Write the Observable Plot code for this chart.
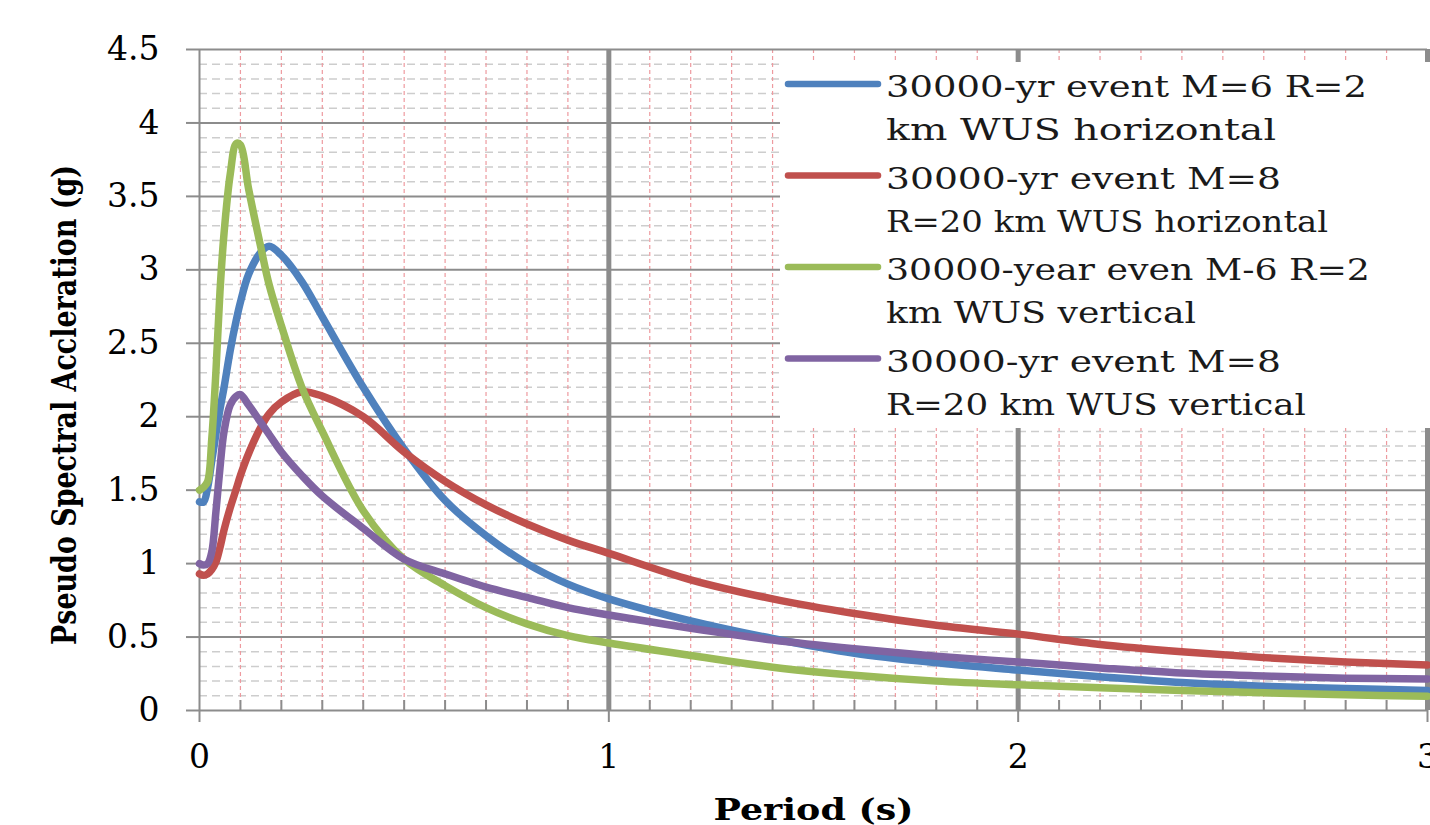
<!DOCTYPE html>
<html>
<head>
<meta charset="utf-8">
<script src="https://cdn.jsdelivr.net/npm/d3@7"></script>
<script src="https://cdn.jsdelivr.net/npm/@observablehq/plot@0.6"></script>
<style>
  html, body { margin: 0; padding: 0; background: #fff; overflow: hidden; }
  #chart { width: 1430px; height: 825px; }
</style>
</head>
<body>
<div id="chart"></div>
<script>
// ---- Data ----
const periods = [0, 0.01, 0.02, 0.03, 0.04, 0.05, 0.06, 0.075, 0.09, 0.1, 0.12, 0.15, 0.17, 0.2, 0.25, 0.3, 0.4, 0.5, 0.6, 0.7, 0.8, 0.9, 1.0, 1.2, 1.4, 1.6, 1.8, 2.0, 2.2, 2.4, 2.6, 2.8, 3.0];

const seriesNames = [
  "30000-yr event M=6 R=2 km WUS horizontal",
  "30000-yr event M=8 R=20 km WUS horizontal",
  "30000-year even M-6 R=2 km WUS vertical",
  "30000-yr event M=8 R=20 km WUS vertical"
];

const saM6Horizontal = [1.42, 1.42, 1.52, 1.70, 1.88, 2.05, 2.20, 2.45, 2.66, 2.78, 2.97, 3.12, 3.16, 3.10, 2.92, 2.68, 2.20, 1.78, 1.43, 1.19, 1.00, 0.86, 0.76, 0.61, 0.49, 0.39, 0.325, 0.275, 0.23, 0.19, 0.165, 0.15, 0.136];
const saM8Horizontal = [0.93, 0.92, 0.93, 0.96, 1.01, 1.11, 1.23, 1.38, 1.51, 1.60, 1.75, 1.93, 2.02, 2.10, 2.17, 2.14, 2.00, 1.76, 1.56, 1.40, 1.27, 1.16, 1.07, 0.89, 0.76, 0.66, 0.58, 0.52, 0.45, 0.40, 0.36, 0.33, 0.31];
const saM6Vertical   = [1.50, 1.52, 1.56, 1.85, 2.30, 2.85, 3.25, 3.65, 3.86, 3.85, 3.55, 3.15, 2.90, 2.62, 2.20, 1.90, 1.36, 1.03, 0.85, 0.70, 0.59, 0.51, 0.46, 0.375, 0.295, 0.24, 0.20, 0.175, 0.155, 0.136, 0.12, 0.107, 0.097];
const saM8Vertical   = [1.00, 0.99, 1.00, 1.08, 1.35, 1.65, 1.90, 2.08, 2.14, 2.15, 2.08, 1.96, 1.88, 1.76, 1.60, 1.46, 1.24, 1.03, 0.93, 0.84, 0.77, 0.70, 0.65, 0.56, 0.48, 0.42, 0.37, 0.33, 0.29, 0.255, 0.235, 0.22, 0.215];

const seriesColors = ["#4F81BD", "#C0504D", "#9BBB59", "#8064A2"];

const legendLines = [
  ["30000-yr event M=6 R=2", "km WUS horizontal"],
  ["30000-yr event M=8", "R=20 km WUS horizontal"],
  ["30000-year even M-6 R=2", "km WUS vertical"],
  ["30000-yr event M=8", "R=20 km WUS vertical"]
];

const yTicks = [0, 0.5, 1, 1.5, 2, 2.5, 3, 3.5, 4, 4.5];
const xTicks = [0, 1, 2, 3];
const xMinor = d3.range(1, 30).map(i => i / 10).filter(v => Math.abs(v - Math.round(v)) > 1e-9);
const yMinor = d3.range(1, 45).map(i => i / 10).filter(v => Math.abs(v * 2 - Math.round(v * 2)) > 1e-9);

const xTitle = "Period (s)";
const yTitle = "Pseudo Spectral Accleration (g)";

// ---- Build table ----
const allSeries = [saM6Horizontal, saM8Horizontal, saM6Vertical, saM8Vertical];
const rows = [];
allSeries.forEach((vals, s) => {
  vals.forEach((v, i) => rows.push({ series: seriesNames[s], period: periods[i], sa: v }));
});

const font = "'DejaVu Serif', 'Liberation Serif', serif";

const plot = Plot.plot({
  width: 1430,
  height: 825,
  marginLeft: 199,
  marginRight: 3,
  marginTop: 49,
  marginBottom: 115,
  style: { fontFamily: font, background: "#fff", color: "#000", overflow: "visible" },
  x: { domain: [0, 3] },
  y: { domain: [0, 4.5] },
  color: { domain: seriesNames, range: seriesColors },
  marks: [
    Plot.ruleY(yMinor, { stroke: "#cdcdcd", strokeWidth: 1.5, strokeDasharray: "8,5" }),
    Plot.ruleX(xMinor, { stroke: "#ee9a9f", strokeWidth: 1.2, strokeDasharray: "4,3" }),
    Plot.ruleY(yTicks, { stroke: "#8c8c8c", strokeWidth: 2 }),
    Plot.ruleX([0], { stroke: "#8c8c8c", strokeWidth: 2 }),
    Plot.ruleX(xTicks.filter(d => d > 0), { stroke: "#8c8c8c", strokeWidth: 5 }),
    Plot.axisY(yTicks, { tickSize: 13, tickPadding: 27, fontSize: 33, tickFormat: d => String(d), stroke: "#8c8c8c", strokeWidth: 2, label: null }),
    Plot.axisX(xMinor, { tickSize: 10, dy: -10, tickFormat: () => "", stroke: "#8c8c8c", strokeWidth: 2, label: null }),
    Plot.axisX(xTicks, { tickSize: 12, tickPadding: 22, fontSize: 33, tickFormat: d => String(d), stroke: "#8c8c8c", strokeWidth: 2, label: null }),
    Plot.line(rows, { x: "period", y: "sa", z: "series", stroke: "series", strokeWidth: 7.5, curve: "catmull-rom", strokeLinecap: "round", strokeLinejoin: "round" }),
    Plot.text([xTitle], { frameAnchor: "bottom", dy: 100, lineAnchor: "middle", fontSize: 30, fontWeight: "bold", fill: "#000" }),
    Plot.text([yTitle], { frameAnchor: "left", dx: -134, dy: 25, rotate: -90, lineAnchor: "middle", fontSize: 33, fontWeight: "bold", fill: "#000" })
  ]
});

document.getElementById("chart").appendChild(plot);

const svg = d3.select(plot);
svg.selectAll("text").filter(function () { return this.textContent === xTitle; })
  .attr("text-anchor", "start").attr("x", -100)
  .attr("textLength", 200).attr("lengthAdjust", "spacingAndGlyphs");
svg.selectAll("text").filter(function () { return this.textContent === yTitle; })
  .attr("text-anchor", "start").attr("x", -240)
  .attr("textLength", 480).attr("lengthAdjust", "spacingAndGlyphs");

// ---- Legend (inside the plot area, top right) ----
const legendWidths = [[481, 390], [395, 442], [484, 310], [395, 420]];
const lg = svg.append("g").attr("class", "legend");
lg.append("rect").attr("x", 780).attr("y", 62).attr("width", 660).attr("height", 366).attr("fill", "#fff");
legendLines.forEach((lines, i) => {
  const top = 84 + i * 91.5;
  lg.append("line")
    .attr("x1", 788).attr("x2", 878).attr("y1", top).attr("y2", top)
    .attr("stroke", seriesColors[i]).attr("stroke-width", 6.5).attr("stroke-linecap", "round");
  lines.forEach((t, j) => {
    lg.append("text")
      .attr("x", 886).attr("y", top + 13 + j * 43)
      .attr("text-anchor", "start")
      .attr("font-family", font).attr("font-size", 29).attr("fill", "#1a1a1a")
      .attr("textLength", legendWidths[i][j]).attr("lengthAdjust", "spacingAndGlyphs")
      .text(t);
  });
});
</script>
</body>
</html>
